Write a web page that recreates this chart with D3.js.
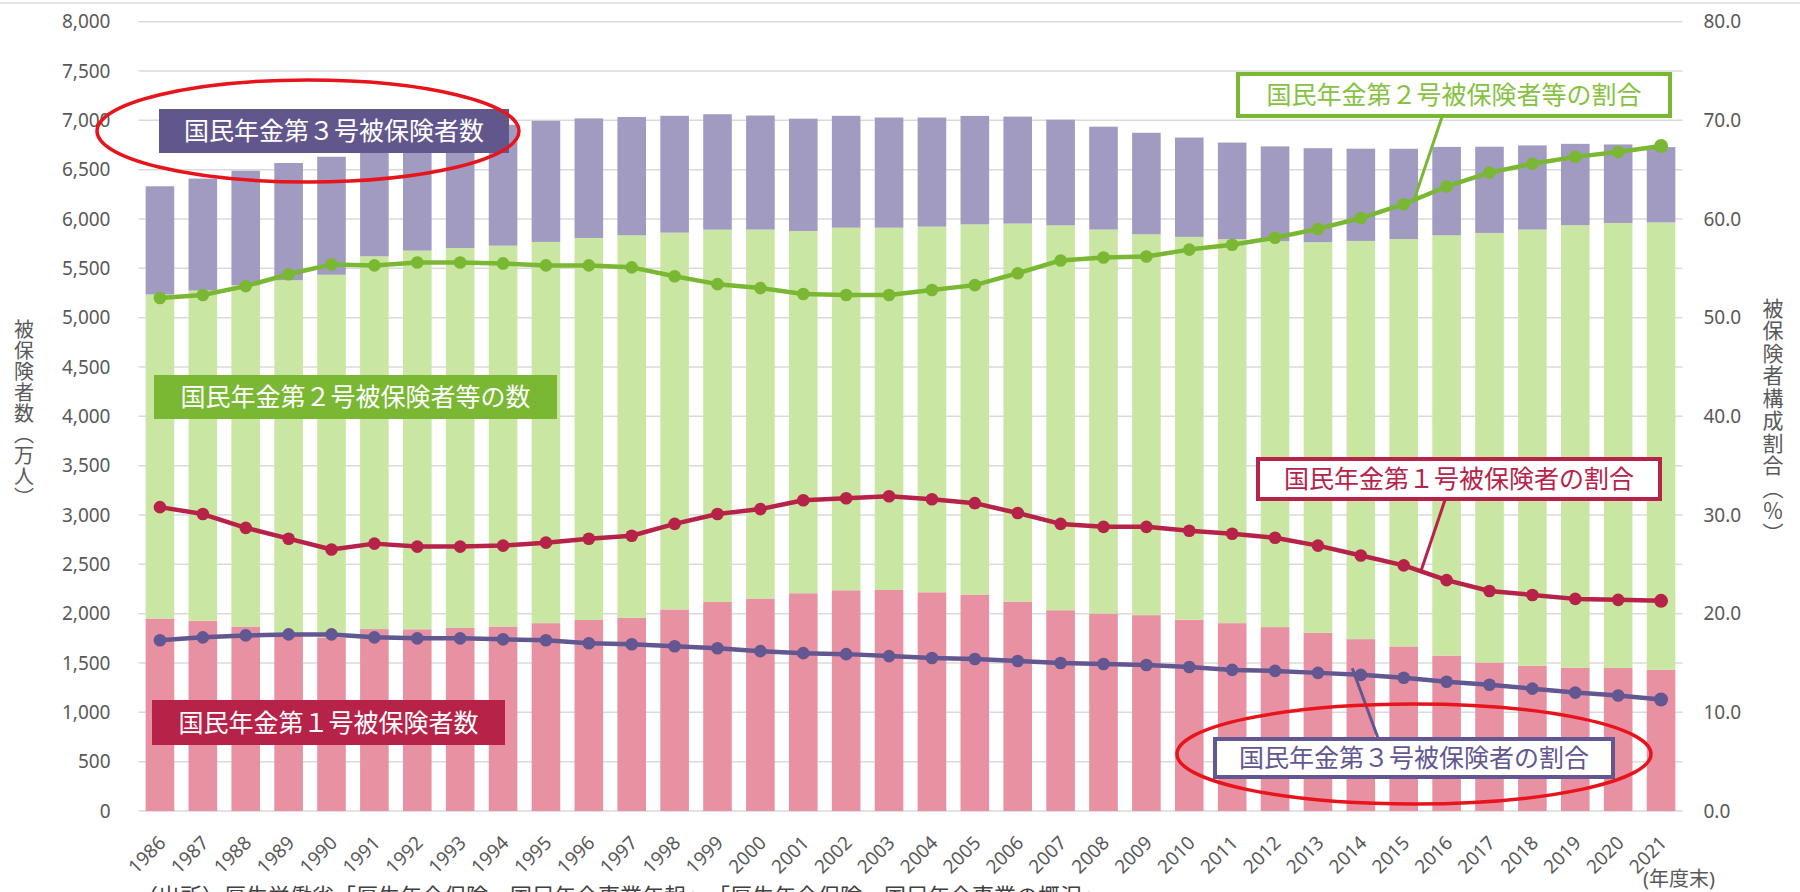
<!DOCTYPE html>
<html>
<head>
<meta charset="utf-8">
<script src="https://cdn.jsdelivr.net/npm/d3@7"></script>
<style>
  body { margin: 0; background: #fff; }
  svg { display: block; }
  text { font-family: "Noto Sans", "Noto Sans CJK JP", sans-serif; }
</style>
</head>
<body>
<svg id="chart" width="1800" height="892"></svg>
<script>
// 年度末の被保険者数（万人）
const years = ["1986","1987","1988","1989","1990","1991","1992","1993","1994","1995","1996","1997",
  "1998","1999","2000","2001","2002","2003","2004","2005","2006","2007","2008","2009",
  "2010","2011","2012","2013","2014","2015","2016","2017","2018","2019","2020","2021"];

// 第1号被保険者数
const type1 = [1951,1929,1870,1798,1759,1844,1842,1855,1870,1904,1936,1958,
  2043,2118,2154,2207,2237,2240,2217,2190,2123,2035,2001,1985,
  1938,1904,1864,1805,1742,1668,1575,1505,1471,1453,1449,1431];
// 第2号被保険者等の数
const type2 = [3284,3346,3460,3582,3676,3778,3838,3851,3860,3864,3872,3877,
  3819,3774,3739,3672,3675,3672,3706,3756,3831,3901,3892,3860,
  3881,3892,3912,3960,4036,4129,4260,4354,4422,4484,4511,4535];
// 第3号被保険者数
const type3 = [1097,1135,1160,1188,1196,1178,1190,1214,1225,1227,1212,1199,
  1184,1170,1156,1138,1134,1117,1106,1099,1084,1071,1043,1029,
  1007,979,960,953,935,915,896,874,853,825,796,763];

// 構成割合（%）
const share1 = [30.8,30.1,28.7,27.6,26.5,27.1,26.8,26.8,26.9,27.2,27.6,27.9,
  29.1,30.1,30.6,31.5,31.7,31.9,31.6,31.2,30.2,29.1,28.8,28.8,
  28.4,28.1,27.7,26.9,25.9,24.9,23.4,22.3,21.9,21.5,21.4,21.3];
const share2 = [52.0,52.3,53.2,54.4,55.4,55.3,55.6,55.6,55.5,55.3,55.3,55.1,
  54.2,53.4,53.0,52.4,52.3,52.3,52.8,53.3,54.5,55.8,56.1,56.2,
  56.9,57.4,58.1,59.0,60.1,61.5,63.3,64.7,65.6,66.3,66.8,67.4];
const share3 = [17.3,17.6,17.8,17.9,17.9,17.6,17.5,17.5,17.4,17.3,17.0,16.9,
  16.7,16.5,16.2,16.0,15.9,15.7,15.5,15.4,15.2,15.0,14.9,14.8,
  14.6,14.3,14.2,14.0,13.8,13.5,13.1,12.8,12.4,12.0,11.7,11.3];

const leftTicks = d3.range(0, 8001, 500);
const rightTicks = d3.range(0, 80.1, 10);

const seriesKeys = ["t1", "t2", "t3"];
const barColors = { t1: "#E891A3", t2: "#C9E6A3", t3: "#A19BC1" };
const lineColors = { s1: "#B72249", s2: "#7AB833", s3: "#625790" };

const svg = d3.select("#chart");
const plotLeft = 138.5, plotRight = 1682.5, plotTop = 21.7, plotBottom = 811;

const x = d3.scaleBand().domain(years).range([plotLeft, plotRight]).paddingInner(0.333).paddingOuter(0.1665);
const yL = d3.scaleLinear().domain([0, 8000]).range([plotBottom, plotTop]);
const yR = d3.scaleLinear().domain([0, 80]).range([plotBottom, plotTop]);
const cx = d => x(d) + x.bandwidth() / 2;

// 上端の区切り線
svg.append("line").attr("x1", 0).attr("x2", 1800).attr("y1", 3).attr("y2", 3)
  .attr("stroke", "#e4e4e8").attr("stroke-width", 2);

// 目盛線
svg.append("g").selectAll("line").data(leftTicks).join("line")
  .attr("x1", plotLeft).attr("x2", plotRight)
  .attr("y1", d => yL(d)).attr("y2", d => yL(d))
  .attr("stroke", "#dadada").attr("stroke-width", 1.5);

// 積み上げ棒
const table = years.map((y, i) => ({ year: y, t1: type1[i], t2: type2[i], t3: type3[i] }));
const stacked = d3.stack().keys(seriesKeys)(table);
svg.append("g").selectAll("g").data(stacked).join("g")
  .attr("fill", s => barColors[s.key])
  .selectAll("rect").data(s => s).join("rect")
  .attr("x", d => x(d.data.year))
  .attr("width", x.bandwidth())
  .attr("y", d => yL(d[1]))
  .attr("height", d => yL(d[0]) - yL(d[1]));

// 左軸
const axL = svg.append("g").attr("transform", `translate(${plotLeft},0)`)
  .call(d3.axisLeft(yL).tickValues(leftTicks).tickFormat(d3.format(",")).tickSize(0).tickPadding(28));
axL.select(".domain").remove();
axL.selectAll("text").attr("fill", "#595959").style("font-size", "19px");

// 右軸
const axR = svg.append("g").attr("transform", `translate(${plotRight},0)`)
  .call(d3.axisRight(yR).tickValues(rightTicks).tickFormat(d3.format(".1f")).tickSize(0).tickPadding(21));
axR.select(".domain").remove();
axR.selectAll("text").attr("fill", "#595959").style("font-size", "19px");

// 横軸（年度）
const axB = svg.append("g").attr("transform", `translate(0,${plotBottom})`)
  .call(d3.axisBottom(x).tickSize(0));
axB.select(".domain").remove();
axB.selectAll("text")
  .attr("x", 0).attr("y", 0).attr("dy", 0)
  .attr("text-anchor", "end")
  .attr("transform", "translate(7,33) rotate(-45)")
  .attr("fill", "#595959").style("font-size", "19px");

svg.append("text").attr("x", 1643).attr("y", 886)
  .attr("fill", "#595959").style("font-size", "20px").text("(年度末)");

// 軸タイトル（縦書き）
svg.append("text").attr("x", 23).attr("y", 414)
  .style("writing-mode", "vertical-rl").attr("text-anchor", "middle")
  .style("font-size", "20px").attr("fill", "#595959").style("letter-spacing", "1px")
  .text("被保険者数（万人）");
svg.append("text").attr("x", 1772).attr("y", 421)
  .style("writing-mode", "vertical-rl").attr("text-anchor", "middle")
  .style("font-size", "21px").attr("fill", "#595959").style("letter-spacing", "1.5px")
  .text("被保険者構成割合（％）");

// 構成割合の折れ線
const lines = [
  { key: "s1", values: share1 },
  { key: "s2", values: share2 },
  { key: "s3", values: share3 }
];
const lineGen = d3.line().x((v, i) => cx(years[i])).y(v => yR(v));
lines.forEach(s => {
  const g = svg.append("g");
  g.append("path").attr("d", lineGen(s.values))
    .attr("fill", "none").attr("stroke", lineColors[s.key]).attr("stroke-width", 4.5)
    .attr("stroke-linejoin", "round");
  g.selectAll("circle").data(s.values).join("circle")
    .attr("cx", (v, i) => cx(years[i])).attr("cy", v => yR(v))
    .attr("r", (v, i) => i === years.length - 1 ? 7 : 6.3)
    .attr("fill", lineColors[s.key]);
});

// 注記（塗りつぶしラベル）
function filledLabel(x0, y0, w, h, fill, label) {
  svg.append("rect").attr("x", x0).attr("y", y0).attr("width", w).attr("height", h).attr("fill", fill);
  svg.append("text").attr("x", x0 + w / 2).attr("y", y0 + h / 2).attr("dy", "0.36em")
    .attr("text-anchor", "middle").attr("fill", "#fff")
    .style("font-family", "'Noto Sans CJK JP', sans-serif").style("font-size", "25px")
    .text(label);
}
// 注記（枠線ラベル）
function outlineLabel(x0, y0, w, h, color, textColor, label) {
  svg.append("rect").attr("x", x0).attr("y", y0).attr("width", w).attr("height", h)
    .attr("fill", "#fff").attr("stroke", color).attr("stroke-width", 4);
  svg.append("text").attr("x", x0 + w / 2).attr("y", y0 + h / 2).attr("dy", "0.36em")
    .attr("text-anchor", "middle").attr("fill", textColor)
    .style("font-family", "'Noto Sans CJK JP', sans-serif").style("font-size", "25px")
    .text(label);
}
function leader(x1, y1, x2, y2, color) {
  svg.append("line").attr("x1", x1).attr("y1", y1).attr("x2", x2).attr("y2", y2)
    .attr("stroke", color).attr("stroke-width", 3);
}
// 線分上の点（i年度とi+1年度の間）
function onSegment(values, i, t) {
  const xa = cx(years[i]), xb = cx(years[i + 1]);
  const ya = yR(values[i]), yb = yR(values[i + 1]);
  return [xa + (xb - xa) * t, ya + (yb - ya) * t];
}

filledLabel(159, 109, 350, 44, "#62578C", "国民年金第３号被保険者数");
filledLabel(154, 375, 403, 44, "#7AB833", "国民年金第２号被保険者等の数");
filledLabel(152, 700, 353, 45, "#B72249", "国民年金第１号被保険者数");

const i2015 = years.indexOf("2015"), i2014 = years.indexOf("2014");
const p2 = onSegment(share2, i2015, 0.24);
leader(1442, 117, p2[0], p2[1], "#7AB833");
outlineLabel(1238, 74, 432, 42, "#7AB833", "#86C240", "国民年金第２号被保険者等の割合");

const p1 = onSegment(share1, i2015, 0.4);
leader(1445, 500, p1[0], p1[1], "#B72249");
outlineLabel(1258, 459, 402, 40, "#B72249", "#B72249", "国民年金第１号被保険者の割合");

const p3 = onSegment(share3, i2014, -0.2);
leader(1378, 738, p3[0], p3[1] - 6, "#625790");
outlineLabel(1215, 739, 398, 38, "#625790", "#625790", "国民年金第３号被保険者の割合");

// 強調の楕円
svg.append("ellipse").attr("cx", 308).attr("cy", 131).attr("rx", 211).attr("ry", 51)
  .attr("fill", "none").attr("stroke", "#E8141C").attr("stroke-width", 3.5);
svg.append("ellipse").attr("cx", 1414).attr("cy", 754).attr("rx", 237).attr("ry", 50)
  .attr("fill", "none").attr("stroke", "#E8141C").attr("stroke-width", 3.5);

// 出所（下端で切れる注記）
svg.append("text").attr("x", 136).attr("y", 904)
  .attr("fill", "#404040").style("font-family", "'Noto Sans CJK JP', sans-serif").style("font-size", "22px")
  .text("（出所）厚生労働省「厚生年金保険・国民年金事業年報」・「厚生年金保険・国民年金事業の概況」");
</script>
</body>
</html>
